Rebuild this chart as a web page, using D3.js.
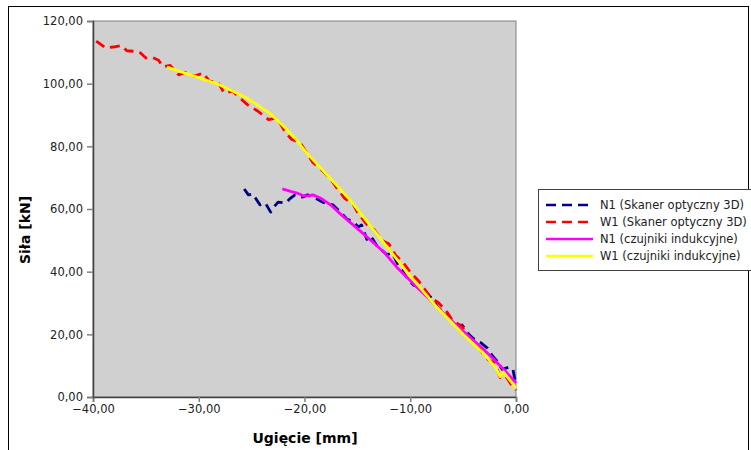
<!DOCTYPE html>
<html><head><meta charset="utf-8">
<script src="https://cdn.jsdelivr.net/npm/d3@7"></script>
<style>body{margin:0;background:#fff;}svg{display:block;font-family:"DejaVu Sans",sans-serif;}</style>
</head><body>
<svg id="c" width="751" height="450"></svg>
<script>
const xTicks = [-40, -30, -20, -10, 0];
const yTicks = [0, 20, 40, 60, 80, 100, 120];
const seriesNames = ["N1 (Skaner optyczny 3D)", "W1 (Skaner optyczny 3D)", "N1 (czujniki indukcyjne)", "W1 (czujniki indukcyjne)"];
const seriesColors = ["#000080", "#ff0000", "#ff00ff", "#ffff00"];

const n1Scan = [[-25.7,66.4],[-25.3,64.5],[-24.9,64.8],[-24.2,61.3],[-23.7,61.9],[-23.2,59.0],[-22.8,61.0],[-22.5,62.2],[-21.8,61.9],[-21.4,63.2],[-20.9,64.5],[-20.2,63.8],[-19.7,64.5],[-19.0,63.5],[-18.3,62.2],[-17.3,61.3],[-16.6,59.0],[-16.0,56.8],[-15.4,55.9],[-14.9,54.3],[-14.6,54.9],[-14.1,50.3],[-13.8,51.7],[-13.1,48.0],[-12.2,45.4],[-11.7,46.0],[-11.2,42.5],[-10.7,40.0],[-10.2,37.5],[-9.7,35.7],[-8.9,34.8],[-8.1,32.0],[-7.4,28.7],[-6.5,26.0],[-5.6,22.3],[-5.1,23.0],[-4.6,20.5],[-4.1,18.8],[-3.4,17.5],[-2.7,15.6],[-2.2,13.0],[-1.8,11.5],[-1.3,8.8],[-0.7,9.5],[-0.3,9.0],[-0.1,5.5],[0,4.5]];
const w1Scan = [[-39.7,113.6],[-38.8,111.4],[-38.1,111.7],[-37.3,112.2],[-36.8,110.5],[-36.0,110.3],[-35.5,109.8],[-35.0,108.2],[-34.4,108.4],[-33.8,107.5],[-33.4,105.4],[-32.7,105.8],[-31.9,102.8],[-31.3,103.6],[-30.4,102.4],[-29.6,103.4],[-29.0,100.8],[-28.2,100.6],[-27.6,97.0],[-26.8,97.6],[-25.9,94.8],[-25.4,93.3],[-24.4,91.2],[-23.4,88.5],[-22.6,89.1],[-21.8,84.4],[-21.2,82.2],[-20.4,81.1],[-19.2,74.8],[-18.6,73.2],[-17.6,69.9],[-16.9,66.5],[-16.2,63.4],[-15.4,61.5],[-15.0,59.0],[-14.1,55.0],[-13.4,53.4],[-12.7,50.0],[-12.0,48.8],[-11.4,45.3],[-10.6,42.6],[-10.0,39.8],[-9.2,37.0],[-8.1,31.9],[-7.3,30.0],[-6.5,27.0],[-6.0,24.4],[-5.1,22.6],[-4.6,19.2],[-3.8,17.5],[-3.3,14.6],[-2.6,11.8],[-2.0,11.0],[-1.5,6.2],[-1.0,6.8],[-0.5,4.2],[0,2.2]];
const n1Ind = [[-22.1,66.4],[-21.3,65.6],[-20.7,65.1],[-20.1,64.2],[-19.6,64.3],[-19.2,64.5],[-18.5,63.5],[-17.6,61.5],[-16.4,57.8],[-14.5,52.3],[-12.5,46.3],[-11.3,41.5],[-9.8,36.5],[-8.4,31.9],[-6.5,25.5],[-4.5,19.5],[-3.0,15.0],[-1.8,11.0],[-1.0,8.2],[-0.4,6.0],[0,4.5]];
const w1Ind = [[-33.0,105.3],[-30.5,102.5],[-28.0,99.6],[-25.5,95.5],[-23.3,90.6],[-22.1,86.8],[-20.9,82.6],[-19.8,77.9],[-17.6,69.9],[-15.7,62.9],[-12.2,47.9],[-10.0,38.6],[-7.5,28.7],[-5.0,20.0],[-3.1,14.0],[-1.9,9.3],[-1.5,6.5],[-1.2,8.0],[-0.6,5.5],[0,2.8]];
const seriesData = [n1Scan, w1Scan, n1Ind, w1Ind];
const seriesDash = ["10,6", "10,6", null, null];

const svg = d3.select("#c");
const L = 93, R = 516, T = 21, B = 397;
const x = d3.scaleLinear().domain([-40, 0]).range([L, R]);
const y = d3.scaleLinear().domain([0, 120]).range([B, T]);
const fmt = d => (d < 0 ? "\u2212" : "") + Math.abs(d).toFixed(2).replace(".", ",");

svg.append("rect").attr("x", 8.5).attr("y", 6.5).attr("width", 740).attr("height", 460)
  .attr("fill", "#fff").attr("stroke", "#000").attr("stroke-width", 1);

svg.append("rect").attr("x", L).attr("y", T).attr("width", R - L).attr("height", B - T)
  .attr("fill", "#d0d0d0").attr("stroke", "#808080").attr("stroke-width", 1);

svg.append("clipPath").attr("id", "pc").append("rect")
  .attr("x", L).attr("y", T - 2).attr("width", R - L + 2).attr("height", B - T + 2);

const line = d3.line().x(d => x(d[0])).y(d => y(d[1]));
const g = svg.append("g").attr("clip-path", "url(#pc)");
seriesData.forEach((s, i) => {
  g.append("path").attr("d", line(s)).attr("fill", "none")
    .attr("stroke", seriesColors[i]).attr("stroke-width", 2.8)
    .attr("stroke-dasharray", seriesDash[i]).attr("stroke-linejoin", "round");
});

const ax = svg.append("g").attr("transform", `translate(0,${B})`)
  .call(d3.axisBottom(x).tickValues(xTicks).tickFormat(fmt).tickSize(5).tickPadding(3));
const ay = svg.append("g").attr("transform", `translate(${L},0)`)
  .call(d3.axisLeft(y).tickValues(yTicks).tickFormat(fmt).tickSize(6).tickPadding(4));
[ax, ay].forEach(a => {
  a.select(".domain").attr("stroke", "#404040").attr("stroke-width", 1.5);
  a.selectAll(".tick line").attr("stroke", "#808080").attr("stroke-width", 1.5);
  a.selectAll("text").attr("fill", "#222").style("font-size", "11.5px").style("font-family", "DejaVu Sans");
});

svg.append("text").attr("x", 305).attr("y", 443).attr("text-anchor", "middle")
  .style("font-weight", "bold").style("font-size", "14px").text("Ugięcie [mm]");
svg.append("text").attr("transform", "translate(30,230) rotate(-90)").attr("text-anchor", "middle")
  .style("font-weight", "bold").style("font-size", "14px").text("Siła [kN]");

const lg = svg.append("g");
lg.append("rect").attr("x", 538.5).attr("y", 189.5).attr("width", 230).attr("height", 81)
  .attr("fill", "#fff").attr("stroke", "#404040").attr("stroke-width", 1);
seriesNames.forEach((n, i) => {
  const yy = 205 + i * 17;
  lg.append("line").attr("x1", 546).attr("x2", 593).attr("y1", yy).attr("y2", yy)
    .attr("stroke", seriesColors[i]).attr("stroke-width", 2.6).attr("stroke-dasharray", seriesDash[i]);
  lg.append("text").attr("x", 600).attr("y", yy + 4).style("font-size", "11.5px").attr("fill", "#222").text(n);
});
</script>
</body></html>
